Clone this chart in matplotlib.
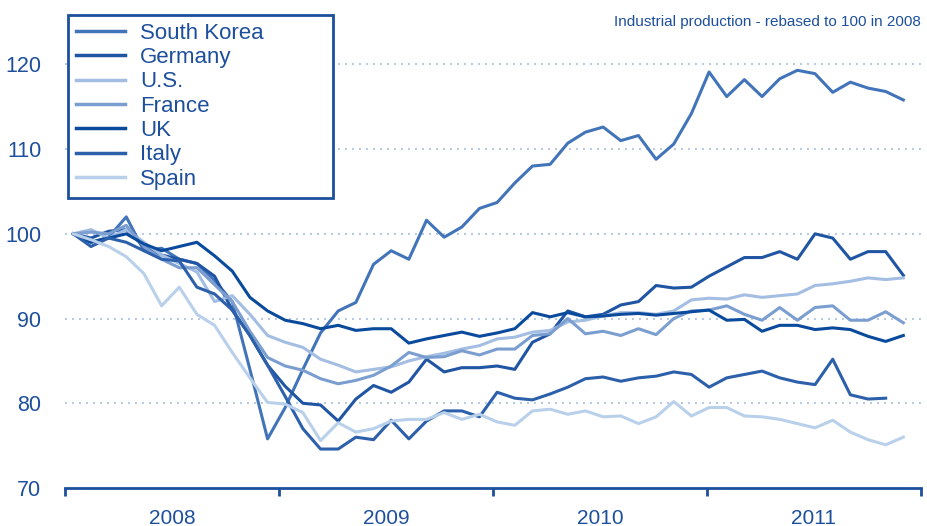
import matplotlib
matplotlib.use("Agg")
import matplotlib.pyplot as plt
import numpy as np

# monthly index, Jan 2008 .. Dec 2011, rebased to 100
years = ["2008", "2009", "2010", "2011"]

south_korea = [100, 99.0, 99.6, 102.0, 98.0, 98.3, 97.0, 96.5, 94.5, 92.0, 84.0, 75.8,
               79.5, 84.0, 88.3, 90.9, 91.9, 96.4, 98.0, 97.0, 101.6, 99.6, 100.8, 103.0,
               103.7, 106.0, 108.0, 108.2, 110.7, 112.0, 112.6, 111.0, 111.6, 108.8, 110.6, 114.2,
               119.1, 116.2, 118.2, 116.2, 118.3, 119.3, 118.9, 116.7, 117.9, 117.2, 116.8, 115.8]
germany = [100, 99.5, 100.3, 100.5, 98.5, 97.5, 97.0, 96.5, 95.0, 91.0, 88.0, 84.5,
           82.0, 80.0, 79.8, 77.9, 80.5, 82.1, 81.3, 82.5, 85.2, 83.7, 84.2, 84.2,
           84.4, 84.0, 87.2, 88.2, 90.9, 90.2, 90.5, 91.6, 92.0, 93.9, 93.6, 93.7,
           95.0, 96.1, 97.2, 97.2, 97.9, 97.0, 100.0, 99.5, 97.0, 97.9, 97.9, 95.1]
us = [100, 100.5, 99.5, 100.5, 99.0, 97.5, 96.5, 95.5, 92.0, 92.7, 90.5, 88.0,
      87.2, 86.6, 85.2, 84.5, 83.7, 84.0, 84.3, 85.0, 85.5, 85.9, 86.4, 86.8,
      87.6, 87.8, 88.4, 88.6, 89.6, 89.8, 90.3, 90.7, 90.7, 90.5, 90.9, 92.2,
      92.4, 92.3, 92.8, 92.5, 92.7, 92.9, 93.9, 94.1, 94.4, 94.8, 94.6, 94.8]
france = [100, 100.2, 100.0, 101.0, 98.5, 97.0, 96.0, 96.0, 94.0, 92.0, 88.5, 85.4,
          84.4, 83.9, 82.9, 82.3, 82.7, 83.3, 84.4, 86.0, 85.4, 85.5, 86.2, 85.7,
          86.4, 86.4, 88.0, 88.2, 90.0, 88.2, 88.5, 88.0, 88.8, 88.1, 90.0, 90.9,
          91.0, 91.5, 90.5, 89.8, 91.3, 89.8, 91.3, 91.5, 89.8, 89.8, 90.8, 89.5]
uk = [100, 99.0, 99.5, 100.0, 98.8, 98.0, 98.5, 99.0, 97.4, 95.6, 92.5, 90.9,
      89.8, 89.4, 88.8, 89.2, 88.6, 88.8, 88.8, 87.1, 87.6, 88.0, 88.4, 87.9,
      88.3, 88.8, 90.7, 90.2, 90.7, 90.2, 90.3, 90.5, 90.6, 90.4, 90.6, 90.8,
      91.0, 89.8, 89.9, 88.5, 89.2, 89.2, 88.7, 88.9, 88.7, 87.9, 87.3, 88.0]
italy = [100, 98.5, 99.5, 99.0, 98.0, 97.0, 96.8, 93.7, 92.9, 91.0, 88.0, 84.5,
         80.8, 77.0, 74.6, 74.6, 76.0, 75.7, 78.0, 75.8, 77.9, 79.1, 79.1, 78.4,
         81.3, 80.6, 80.4, 81.1, 81.9, 82.9, 83.1, 82.6, 83.0, 83.2, 83.7, 83.4,
         81.9, 83.0, 83.4, 83.8, 83.0, 82.5, 82.2, 85.2, 81.0, 80.5, 80.6, np.nan]
spain = [100, 99.3, 98.5, 97.3, 95.3, 91.5, 93.7, 90.5, 89.2, 86.0, 83.0, 80.1,
         79.9, 78.9, 75.6, 77.7, 76.6, 77.0, 77.9, 78.1, 78.1, 78.9, 78.1, 78.7,
         77.8, 77.4, 79.1, 79.3, 78.7, 79.1, 78.4, 78.5, 77.6, 78.4, 80.2, 78.5,
         79.5, 79.5, 78.5, 78.4, 78.1, 77.6, 77.1, 78.0, 76.6, 75.7, 75.1, 76.0]

series = [("South Korea", south_korea, "#4274b9"),
          ("Germany", germany, "#1f55a3"),
          ("U.S.", us, "#a3bee2"),
          ("France", france, "#7b9ed1"),
          ("UK", uk, "#0a4a9c"),
          ("Italy", italy, "#2d60ab"),
          ("Spain", spain, "#b9d0eb")]

blue = "#1d4f9c"
plt.rcParams["font.family"] = ["Liberation Sans", "DejaVu Sans"]

fig = plt.figure(figsize=(9.27, 5.26), dpi=100)
ax = fig.add_axes([65 / 927, 1 - 488 / 526, 856 / 927, 466 / 526])

x = np.arange(len(south_korea))
for name, vals, col in series:
    ax.plot(x, vals, color=col, lw=2.2, label=name)

# axes / grid
x0, x1 = -0.47, 48.0
ax.set_xlim(x0, x1)
ax.set_ylim(70, 125)
step = (x1 - x0) / 4
bounds = [x0 + step * k for k in range(5)]
ax.set_xticks(bounds)
ax.set_xticklabels([])
ax.set_xticks([b + step / 2 for b in bounds[:-1]], minor=True)
ax.set_xticklabels(years, minor=True)
ax.tick_params(axis="x", which="major", length=6, width=2, color=blue)
ax.tick_params(axis="x", which="minor", length=0, pad=15, labelsize=15, labelcolor=blue)

ax.set_yticks([70, 80, 90, 100, 110, 120])
ax.tick_params(axis="y", length=0, pad=17, labelsize=15.5, labelcolor=blue)
for v in [80, 90, 100, 110, 120]:
    ax.axhline(v, color="#b3c8e5", lw=1.4, ls=(0, (1, 2.6)), zorder=0)

for s in ["top", "right", "left"]:
    ax.spines[s].set_visible(False)
ax.spines["bottom"].set_color(blue)
ax.spines["bottom"].set_linewidth(2)

ax.text(1.0, 1.0, "Industrial production - rebased to 100 in 2008",
        transform=ax.transAxes, ha="right", va="center", fontsize=11, color=blue)

leg = fig.legend(loc="upper left",
                 bbox_to_anchor=(68 / 927, 0, 265 / 927, 1 - 15 / 526),
                 mode="expand", borderaxespad=0, fontsize=16, frameon=True,
                 fancybox=False, framealpha=1, handlelength=2.2, handletextpad=0.7,
                 labelspacing=0.15, borderpad=0.35)
leg.get_frame().set_edgecolor(blue)
leg.get_frame().set_linewidth(2)
for t in leg.get_texts():
    t.set_color(blue)
for h in leg.get_lines():
    h.set_linewidth(2.5)

plt.savefig("out.png", dpi=100)
plt.close()
